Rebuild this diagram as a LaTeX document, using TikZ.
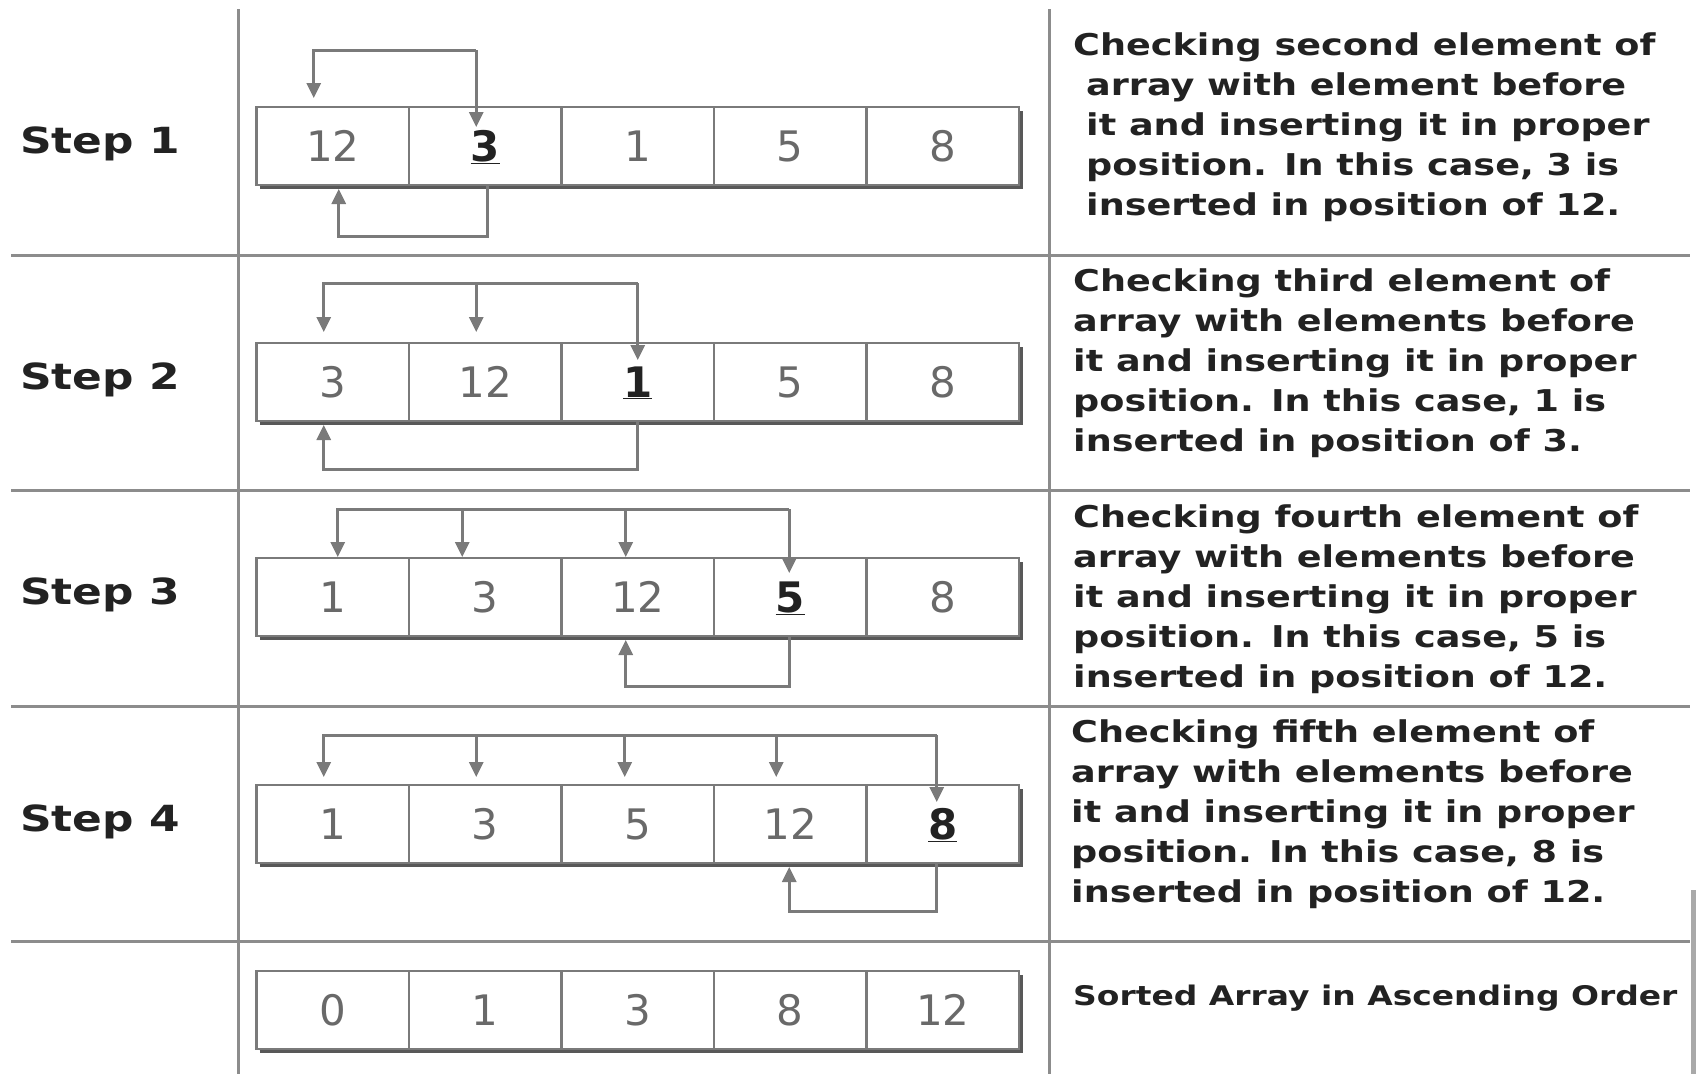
\documentclass[tikz,border=0pt]{standalone}
\usepackage{fontspec}
\setmainfont{DejaVu Sans}
\newfontfamily\labelfont{DejaVu Sans}[FakeStretch=1.22]
\usetikzlibrary{arrows.meta,positioning,calc}
\definecolor{GridGray}{RGB}{140,140,140}
\definecolor{BoxGray}{RGB}{122,122,122}
\definecolor{ShadeGray}{RGB}{88,88,88}
\definecolor{DigitGray}{RGB}{105,105,105}
\definecolor{InkGray}{RGB}{34,34,34}

\tikzset{
  cell/.style={draw=BoxGray,line width=2.5pt,fill=white,outer sep=0pt,inner sep=0pt,
    minimum width=152.5pt,minimum height=78pt,text height=30pt,text depth=0pt,
    text=DigitGray,font=\fontsize{42}{42}\selectfont},
  shade/.style={ShadeGray,line width=3pt},
  steplabel/.style={anchor=base west,inner sep=0pt,text=InkGray,
    font=\labelfont\bfseries\fontsize{36}{36}\selectfont},
  note/.style={anchor=base west,align=left,inner sep=0pt,text=InkGray,
    font=\labelfont\bfseries\fontsize{30}{40}\selectfont},
  grid/.style={GridGray,line width=3pt},
  link/.style={BoxGray,line width=3pt,-{Triangle[width=14pt,length=15pt]}}
}
\newcommand{\pick}[1]{\textcolor{InkGray}{\underline{\textbf{#1}}}}
\newcommand{\cellrow}[7]{%
  \node[cell] (#1c1) at (332.75,#2) {#3};
  \node[cell,right=0pt of #1c1] (#1c2) {#4};
  \node[cell,right=0pt of #1c2] (#1c3) {#5};
  \node[cell,right=0pt of #1c3] (#1c4) {#6};
  \node[cell,right=0pt of #1c4] (#1c5) {#7};
  \draw[shade] ($(#1c1.south west)+(3,2.5)$) -- ($(#1c5.south east)+(2.5,2.5)$)
    -- ($(#1c5.north east)+(2.5,4)$);
}

\begin{document}
\begin{tikzpicture}[x=1pt,y=-1pt]
  \useasboundingbox (0,0) rectangle (1696,1074);

  \draw[grid] (238,9) -- (238,1074);
  \draw[grid] (1049,9) -- (1049,1074);
  \foreach \y in {255,490,706,941}
    \draw[grid] (11,\y) -- (1690,\y);
  \fill[GridGray!75] (1690.5,890) rectangle (1696,1074);

  \node[steplabel] (lab1) at (20,153) {Step 1};
  \node[steplabel] (lab2) at (20,389) {Step 2};
  \node[steplabel] (lab3) at (20,604) {Step 3};
  \node[steplabel] (lab4) at (20,831) {Step 4};

  \cellrow{r1}{146}{12}{\pick{3}}{1}{5}{8}
  \cellrow{r2}{382}{3}{12}{\pick{1}}{5}{8}
  \cellrow{r3}{597}{1}{3}{12}{\pick{5}}{8}
  \cellrow{r4}{824}{1}{3}{5}{12}{\pick{8}}
  \cellrow{r5}{1010}{0}{1}{3}{8}{12}

  \coordinate (t1) at ($(r1c2.north)+(-9,-57)$);
  \draw[link] (t1) -- ($(r1c2.north)+(-9,20)$);
  \draw[link] (t1) -| ($(r1c1.north)+(-19,-9)$);
  \draw[link] ($(r1c2.south)+(2,0)$) -- ++(0,51) -| ($(r1c1.south)+(6,4)$);

  \coordinate (t2) at ($(r2c3.north)+(0,-60)$);
  \draw[link] (t2) -- ($(r2c3.north)+(0,17)$);
  \foreach \c in {1,2}
    \draw[link] (t2) -| ($(r2c\c.north)+(-9,-11)$);
  \draw[link] (r2c3.south) -- ++(0,48) -| ($(r2c1.south)+(-9,4)$);

  \coordinate (t3) at ($(r3c4.north)+(-1,-49)$);
  \draw[link] (t3) -- ($(r3c4.north)+(-1,15)$);
  \foreach \c/\dx in {1/5,2/-23,3/-12}
    \draw[link] (t3) -| ($(r3c\c.north)+(\dx,-1)$);
  \draw[link] ($(r3c4.south)+(-1,0)$) -- ++(0,50) -| ($(r3c3.south)+(-12,4)$);

  \coordinate (t4) at ($(r4c5.north)+(-6,-50)$);
  \draw[link] (t4) -- ($(r4c5.north)+(-6,17)$);
  \foreach \c/\dx in {1/-9,2/-9,3/-13,4/-14}
    \draw[link] (t4) -| ($(r4c\c.north)+(\dx,-8)$);
  \draw[link] ($(r4c5.south)+(-6,0)$) -- ++(0,48) -| ($(r4c4.south)+(-1,4)$);

  \node[note] (txt1) at (1073,215) {Checking second element of\\
    \hspace*{13pt}array with element before\\
    \hspace*{13pt}it and inserting it in proper\\
    \hspace*{13pt}position. In this case, 3 is\\
    \hspace*{13pt}inserted in position of 12.};
  \node[note] (txt2) at (1073,451) {Checking third element of\\
    array with elements before\\
    it and inserting it in proper\\
    position. In this case, 1 is\\
    inserted in position of 3.};
  \node[note] (txt3) at (1073,687) {Checking fourth element of\\
    array with elements before\\
    it and inserting it in proper\\
    position. In this case, 5 is\\
    inserted in position of 12.};
  \node[note] (txt4) at (1071,902) {Checking fifth element of\\
    array with elements before\\
    it and inserting it in proper\\
    position. In this case, 8 is\\
    inserted in position of 12.};
  \node[note,font=\labelfont\bfseries\fontsize{27}{27}\selectfont] (txt5) at (1073,1005)
    {Sorted Array in Ascending Order};
\end{tikzpicture}
\end{document}
